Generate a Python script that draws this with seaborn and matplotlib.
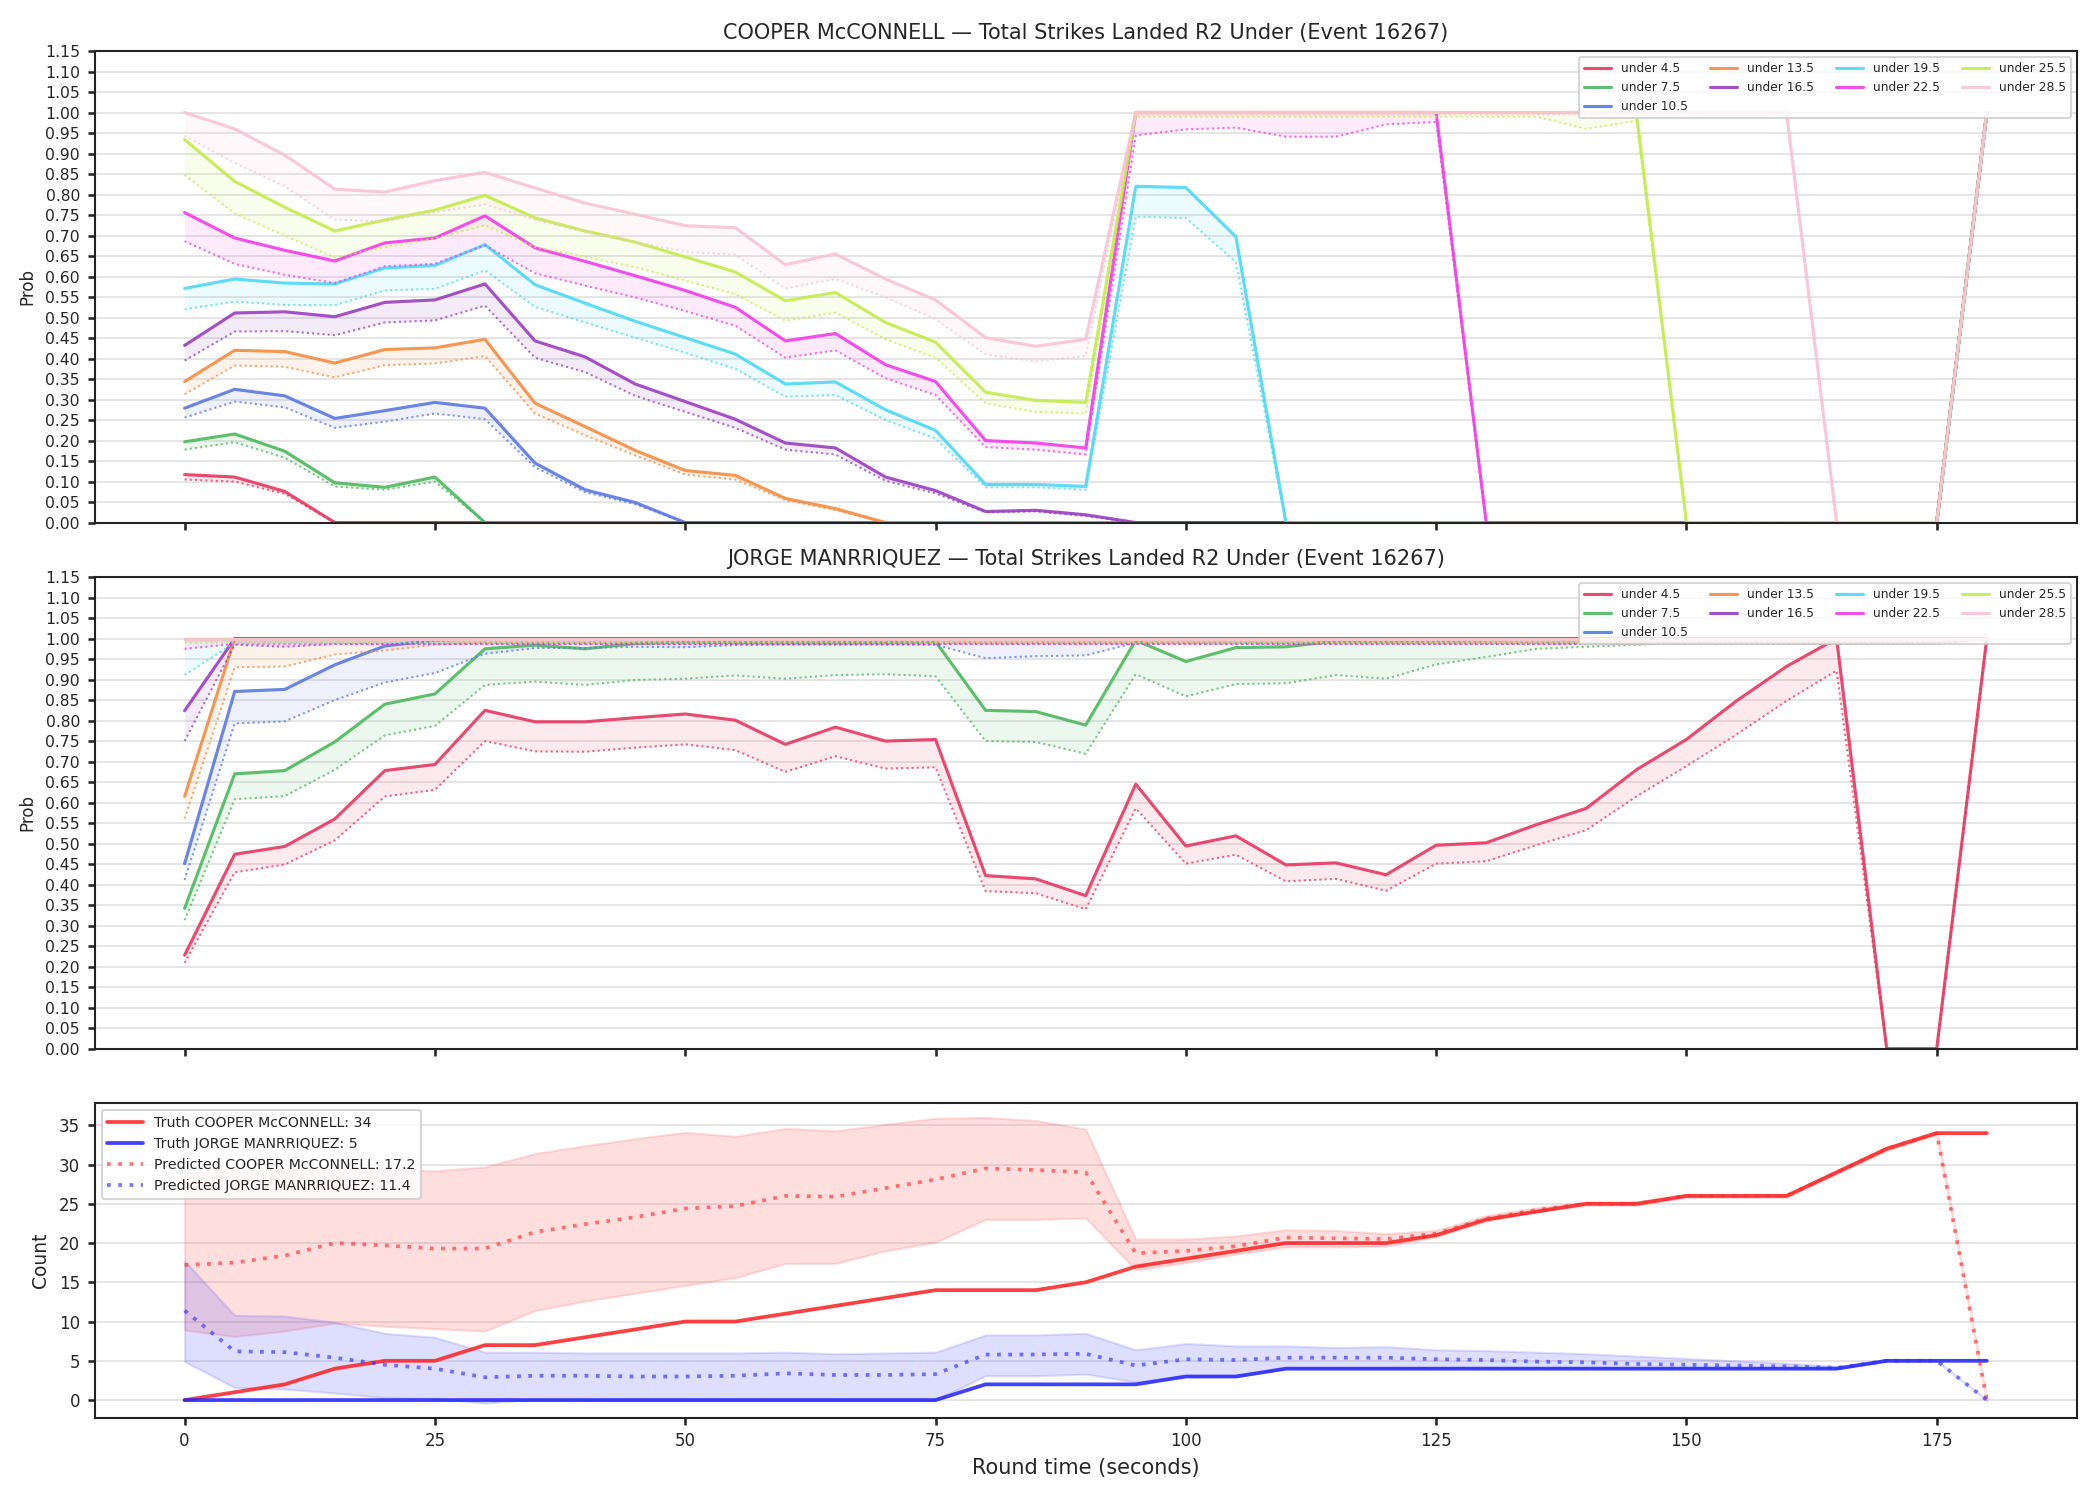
import numpy as np
import pandas as pd
import matplotlib
matplotlib.use("Agg")
import matplotlib.pyplot as plt
import seaborn as sns

# ---------------- data ----------------
times = list(range(0, 181, 5))  # round time (s)

lines = ["under 4.5", "under 7.5", "under 10.5", "under 13.5", "under 16.5",
         "under 19.5", "under 22.5", "under 25.5", "under 28.5"]
line_colors = ["#e6375f", "#4cb85c", "#5a78e0", "#f58d42", "#9a3ec0",
               "#4dd8f5", "#f03ce8", "#c3ec4b", "#f9c3d3"]

# COOPER McCONNELL - market prob (solid) and fair prob (dotted)
cooper_u45 = [0.117, 0.111, 0.076] + [0.0] * 33 + [1.0]
cooper_u75 = [0.197, 0.216, 0.174, 0.097, 0.086, 0.111] + [0.0] * 30 + [1.0]
cooper_u105 = [0.279, 0.325, 0.309, 0.254, 0.273, 0.293, 0.279, 0.145, 0.080, 0.049] + [0.0] * 26 + [1.0]
cooper_u135 = [0.344, 0.420, 0.417, 0.389, 0.422, 0.426, 0.447, 0.291, 0.234, 0.176, 0.127, 0.115,
               0.059, 0.034] + [0.0] * 22 + [1.0]
cooper_u165 = [0.432, 0.511, 0.514, 0.502, 0.537, 0.543, 0.582, 0.443, 0.404, 0.338, 0.295, 0.252,
               0.194, 0.182, 0.111, 0.078, 0.027, 0.030, 0.019] + [0.0] * 17 + [1.0]
cooper_u195 = [0.571, 0.594, 0.584, 0.582, 0.621, 0.627, 0.678, 0.580, 0.535, 0.491, 0.451, 0.411,
               0.338, 0.343, 0.275, 0.225, 0.093, 0.093, 0.088, 0.820, 0.817, 0.697] + [0.0] * 14 + [1.0]
cooper_u225 = [0.756, 0.694, 0.664, 0.638, 0.682, 0.694, 0.748, 0.670, 0.637, 0.602, 0.566, 0.525,
               0.443, 0.461, 0.385, 0.344, 0.200, 0.194, 0.182] + [1.0] * 7 + [0.0] * 10 + [1.0]
cooper_u255 = [0.934, 0.832, 0.769, 0.711, 0.738, 0.762, 0.798, 0.743, 0.711, 0.684, 0.648, 0.611,
               0.541, 0.561, 0.488, 0.440, 0.318, 0.298, 0.293] + [1.0] * 11 + [0.0] * 6 + [1.0]
cooper_u285 = [1.000, 0.960, 0.896, 0.813, 0.806, 0.834, 0.854, 0.816, 0.779, 0.752, 0.724, 0.719,
               0.629, 0.655, 0.594, 0.543, 0.451, 0.430, 0.447] + [1.0] * 14 + [0.0] * 3 + [1.0]

cooper_f45 = [0.105, 0.100, 0.070] + [0.0] * 33 + [1.0]
cooper_f75 = [0.178, 0.196, 0.158, 0.088, 0.080, 0.100] + [0.0] * 30 + [1.0]
cooper_f105 = [0.256, 0.295, 0.281, 0.231, 0.246, 0.266, 0.252, 0.135, 0.074, 0.045] + [0.0] * 26 + [1.0]
cooper_f135 = [0.313, 0.383, 0.380, 0.354, 0.384, 0.388, 0.406, 0.266, 0.213, 0.164, 0.117, 0.105,
               0.055, 0.030] + [0.0] * 22 + [1.0]
cooper_f165 = [0.395, 0.466, 0.467, 0.457, 0.488, 0.493, 0.529, 0.402, 0.367, 0.309, 0.270, 0.231,
               0.178, 0.166, 0.102, 0.071, 0.025, 0.027, 0.016] + [0.0] * 17 + [1.0]
cooper_f195 = [0.520, 0.539, 0.531, 0.530, 0.566, 0.570, 0.615, 0.526, 0.488, 0.451, 0.414, 0.375,
               0.307, 0.311, 0.250, 0.205, 0.086, 0.086, 0.080, 0.746, 0.743, 0.635] + [0.0] * 14 + [1.0]
cooper_f225 = [0.686, 0.631, 0.604, 0.584, 0.625, 0.631, 0.676, 0.608, 0.578, 0.549, 0.516, 0.480,
               0.402, 0.420, 0.352, 0.311, 0.184, 0.178, 0.166, 0.944, 0.959, 0.963, 0.941, 0.941,
               0.971, 0.977] + [0.0] * 10 + [1.0]
cooper_f255 = [0.848, 0.754, 0.700, 0.646, 0.672, 0.693, 0.725, 0.672, 0.648, 0.623, 0.590, 0.557,
               0.492, 0.512, 0.447, 0.402, 0.291, 0.270, 0.266] + [0.99] * 9 + [0.96, 0.98] + [0.0] * 6 + [1.0]
cooper_f285 = [0.943, 0.877, 0.820, 0.739, 0.734, 0.757, 0.776, 0.738, 0.709, 0.684, 0.660, 0.653,
               0.571, 0.594, 0.549, 0.496, 0.410, 0.393, 0.406] + [0.995] * 14 + [0.0] * 3 + [1.0]

# JORGE MANRRIQUEZ
jorge_u45 = [0.228, 0.474, 0.493, 0.560, 0.678, 0.693, 0.825, 0.797, 0.797, 0.807, 0.816, 0.801,
             0.742, 0.784, 0.750, 0.754, 0.422, 0.414, 0.373, 0.645, 0.494, 0.519, 0.448, 0.453,
             0.424, 0.496, 0.502, 0.546, 0.586, 0.680, 0.754, 0.848, 0.932, 1.000, 0.0, 0.0, 1.0]
jorge_u75 = [0.342, 0.670, 0.678, 0.748, 0.840, 0.865, 0.975, 0.984, 0.975, 0.988, 0.992, 0.990,
             0.990, 0.990, 0.990, 0.993, 0.825, 0.822, 0.789, 0.996, 0.944, 0.978, 0.980, 0.994,
             0.994, 0.995, 0.997, 0.998, 0.999] + [1.0] * 8
jorge_u105 = [0.451, 0.871, 0.876, 0.936, 0.982, 0.996] + [1.0] * 31
jorge_u135 = [0.615] + [1.0] * 36
jorge_u165 = [0.824] + [1.0] * 36
jorge_u195 = [1.0] * 37
jorge_u225 = [1.0] * 37
jorge_u255 = [1.0] * 37
jorge_u285 = [1.0] * 37

jorge_f45 = [0.209, 0.430, 0.449, 0.508, 0.615, 0.631, 0.750, 0.725, 0.724, 0.734, 0.742, 0.728,
             0.675, 0.713, 0.683, 0.686, 0.384, 0.379, 0.340, 0.586, 0.451, 0.473, 0.408, 0.414,
             0.385, 0.451, 0.457, 0.496, 0.533, 0.615, 0.689, 0.766, 0.848, 0.922, 0.0, 0.0, 1.0]
jorge_f75 = [0.313, 0.608, 0.616, 0.680, 0.764, 0.787, 0.887, 0.895, 0.887, 0.899, 0.902, 0.910,
             0.902, 0.911, 0.913, 0.908, 0.750, 0.748, 0.719, 0.913, 0.859, 0.889, 0.891, 0.911,
             0.902, 0.937, 0.955, 0.975, 0.980, 0.985] + [0.99] * 6 + [1.0]
jorge_f105 = [0.411, 0.793, 0.798, 0.850, 0.893, 0.916, 0.963, 0.977, 0.977, 0.980, 0.979, 0.984,
              0.985, 0.985, 0.985, 0.985, 0.952, 0.957, 0.959] + [0.99] * 17 + [1.0]
jorge_f135 = [0.561, 0.930, 0.932, 0.961, 0.971, 0.985] + [0.99] * 30 + [1.0]
jorge_f165 = [0.750, 0.985, 0.980] + [0.987] * 33 + [1.0]
jorge_f195 = [0.911] + [0.99] * 35 + [1.0]
jorge_f225 = [0.975] + [0.987] * 35 + [1.0]
jorge_f255 = [0.99] * 36 + [1.0]
jorge_f285 = [0.993] * 36 + [1.0]

# Counts
truth_cooper = [0, 1, 2, 4, 5, 5, 7, 7, 8, 9, 10, 10, 11, 12, 13, 14, 14, 14, 15, 17, 18, 19, 20,
                20, 20, 21, 23, 24, 25, 25, 26, 26, 26, 29, 32, 34, 34]
truth_jorge = [0] * 16 + [2, 2, 2, 2, 3, 3, 4, 4, 4, 4, 4, 4, 4, 4, 4, 4, 4, 4, 5, 5, 5]
pred_cooper = [17.2, 17.5, 18.4, 20.0, 19.7, 19.3, 19.3, 21.4, 22.4, 23.3, 24.4, 24.7, 26.0, 25.9,
               27.0, 28.1, 29.5, 29.3, 29.0, 18.7, 19.0, 19.6, 20.7, 20.6, 20.5, 21.2, 23.1, 24.2,
               25.0, 25.0, 26.0, 26.0, 26.0, 29.0, 32.0, 34.0, 0.0]
pred_jorge = [11.4, 6.2, 6.1, 5.4, 4.5, 4.0, 2.9, 3.1, 3.1, 3.0, 3.0, 3.1, 3.4, 3.2, 3.2, 3.3, 5.8,
              5.8, 5.9, 4.4, 5.2, 5.1, 5.4, 5.4, 5.4, 5.2, 5.1, 4.9, 4.8, 4.6, 4.5, 4.4, 4.3, 4.1,
              5.0, 5.0, 0.0]
band_cooper_lo = [8.9, 8.1, 8.8, 9.8, 9.4, 9.1, 8.8, 11.4, 12.6, 13.6, 14.6, 15.6, 17.4, 17.4, 19.0,
                  20.1, 23.0, 23.0, 23.2, 16.6, 17.5, 18.6, 19.5, 19.5, 19.6, 20.8, 22.8, 24.0, 24.8,
                  24.8, 25.8, 25.8, 25.8, 28.8, 31.8, 33.8, 0.0]
band_cooper_hi = [29.0, 29.2, 29.3, 29.4, 29.4, 29.2, 29.7, 31.4, 32.4, 33.3, 34.1, 33.6, 34.6, 34.3,
                  35.1, 35.9, 36.0, 35.6, 34.5, 20.5, 20.5, 20.9, 21.7, 21.6, 21.2, 21.6, 23.5, 24.5,
                  25.2, 25.2, 26.2, 26.2, 26.2, 29.2, 32.2, 34.2, 0.0]
band_jorge_lo = [4.9, 1.6, 1.4, 0.9, 0.3, 0.2, -0.4, 0.1, 0.0, 0.0, 0.0, 0.0, 0.0, 0.0, 0.0, 0.0, 3.1,
                 3.1, 3.3, 2.3, 3.0, 3.0, 4.0, 4.0, 4.0, 4.0, 4.0, 4.0, 4.0, 4.0, 4.0, 4.0, 4.0, 4.0,
                 5.0, 5.0, 0.0]
band_jorge_hi = [17.7, 10.8, 10.7, 9.9, 8.5, 8.0, 6.1, 6.1, 6.0, 6.0, 6.0, 6.0, 6.1, 5.9, 6.0, 6.1,
                 8.3, 8.3, 8.5, 6.4, 7.2, 6.9, 6.9, 6.7, 6.8, 6.4, 6.3, 6.1, 5.9, 5.6, 5.3, 5.0, 4.7,
                 4.3, 5.0, 5.0, 0.0]

cooper_market = [cooper_u45, cooper_u75, cooper_u105, cooper_u135, cooper_u165,
                 cooper_u195, cooper_u225, cooper_u255, cooper_u285]
cooper_fair = [cooper_f45, cooper_f75, cooper_f105, cooper_f135, cooper_f165,
               cooper_f195, cooper_f225, cooper_f255, cooper_f285]
jorge_market = [jorge_u45, jorge_u75, jorge_u105, jorge_u135, jorge_u165,
                jorge_u195, jorge_u225, jorge_u255, jorge_u285]
jorge_fair = [jorge_f45, jorge_f75, jorge_f105, jorge_f135, jorge_f165,
              jorge_f195, jorge_f225, jorge_f255, jorge_f285]

# ---------------- plot ----------------
sns.set_theme(style="white")
plt.rcParams["font.family"] = ["DejaVu Sans"]
plt.rcParams["axes.edgecolor"] = "#222222"
plt.rcParams["axes.linewidth"] = 1.0

fig, axes = plt.subplots(3, 1, figsize=(14, 10), dpi=150, sharex=True,
                         gridspec_kw={"height_ratios": [3, 3, 2]})
fig.subplots_adjust(left=0.045, right=0.989, top=0.966, bottom=0.055, hspace=0.13)

tarr = np.array(times)


def prob_panel(ax, market, fair, title):
    for name, col, m, f in zip(lines, line_colors, market, fair):
        df = pd.DataFrame({"t": times, "m": m, "f": f})
        sns.lineplot(data=df, x="t", y="m", ax=ax, color=col, lw=1.5, alpha=0.9, label=name)
        sns.lineplot(data=df, x="t", y="f", ax=ax, color=col, lw=1.0, alpha=0.75,
                     linestyle=(0, (1, 1.5)), legend=False)
        ax.fill_between(tarr, np.array(m), np.array(f), color=col, alpha=0.1, lw=0)
    ax.set_ylim(0, 1.15)
    ax.set_yticks(np.round(np.arange(0, 1.151, 0.05), 2))
    ax.set_yticklabels([f"{v:.2f}" for v in np.arange(0, 1.151, 0.05)], fontsize=7.5)
    ax.grid(axis="y", color="#e0e0e0", lw=0.8)
    ax.set_axisbelow(True)
    ax.set_ylabel("Prob", fontsize=8)
    ax.set_xlabel("")
    ax.set_title(title, fontsize=10)
    ax.tick_params(axis="both", which="both", bottom=True, left=True, length=3.5,
                   labelsize=7.5)
    leg = ax.legend(loc="upper right", ncol=4, fontsize=5.9, frameon=True,
                    handlelength=2.2, columnspacing=1.8, borderpad=0.4, labelspacing=0.5)
    leg.get_frame().set_edgecolor("#cccccc")


prob_panel(axes[0], cooper_market, cooper_fair,
           "COOPER McCONNELL — Total Strikes Landed R2 Under (Event 16267)")
prob_panel(axes[1], jorge_market, jorge_fair,
           "JORGE MANRRIQUEZ — Total Strikes Landed R2 Under (Event 16267)")

ax = axes[2]
cnt = pd.DataFrame({"t": times, "tc": truth_cooper, "tj": truth_jorge,
                    "pc": pred_cooper, "pj": pred_jorge})
ax.fill_between(tarr, band_cooper_lo, band_cooper_hi, color="#ff4d4d", alpha=0.18, lw=1,
                edgecolor=(1, 0.3, 0.3, 0.25))
ax.fill_between(tarr, band_jorge_lo, band_jorge_hi, color="#4d4dff", alpha=0.18, lw=1,
                edgecolor=(0.3, 0.3, 1, 0.25))
sns.lineplot(data=cnt, x="t", y="tc", ax=ax, color="#ff2020", lw=1.8, alpha=0.85,
             label="Truth COOPER McCONNELL: 34")
sns.lineplot(data=cnt, x="t", y="tj", ax=ax, color="#2020ff", lw=1.8, alpha=0.85,
             label="Truth JORGE MANRRIQUEZ: 5")
sns.lineplot(data=cnt, x="t", y="pc", ax=ax, color="#ff3030", lw=1.8, alpha=0.65,
             linestyle=(0, (1, 2)), label="Predicted COOPER McCONNELL: 17.2")
sns.lineplot(data=cnt, x="t", y="pj", ax=ax, color="#3030ff", lw=1.8, alpha=0.65,
             linestyle=(0, (1, 2)), label="Predicted JORGE MANRRIQUEZ: 11.4")
ax.set_yticks([0, 5, 10, 15, 20, 25, 30, 35])
ax.grid(axis="y", color="#e0e0e0", lw=0.8)
ax.set_axisbelow(True)
ax.set_ylabel("Count", fontsize=9)
ax.set_xlabel("Round time (seconds)", fontsize=10)
ax.set_xticks([0, 25, 50, 75, 100, 125, 150, 175])
ax.tick_params(axis="both", labelsize=8, length=3.5, bottom=True, left=True)
leg = ax.legend(loc="upper left", fontsize=6.8, frameon=True, handlelength=2.5)
leg.get_frame().set_edgecolor("#cccccc")
ax.set_xlim(-9, 189)

for a in axes:
    for s in a.spines.values():
        s.set_visible(True)
        s.set_color("#222222")

fig.savefig("out.png", dpi=150)
